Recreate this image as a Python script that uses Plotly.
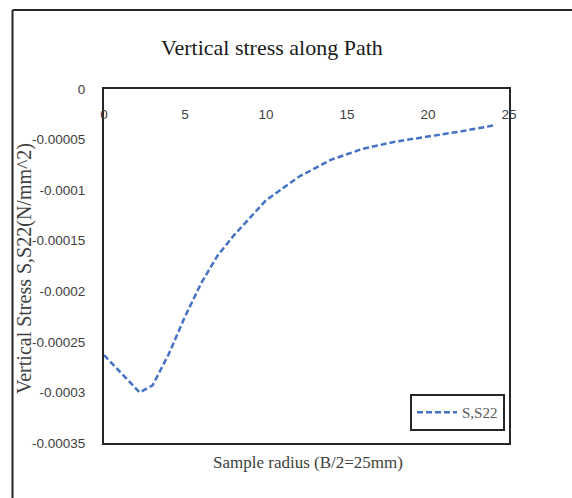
import plotly.graph_objects as go

# Path data: radial position (mm) and vertical stress S22 (N/mm^2)
radius_mm = [0, 1, 2.2, 3, 4, 5, 6, 7, 8, 10, 12, 14, 16, 18, 20, 22, 24.2]
s22 = [-0.000263, -0.000280, -0.000300, -0.000293, -0.000262, -0.000225,
       -0.000192, -0.000165, -0.000145, -0.000110, -0.000087, -0.000070,
       -0.000059, -0.000052, -0.000047, -0.000042, -0.0000356]

x_ticks = [0, 5, 10, 15, 20, 25]
y_ticks = [0, -0.00005, -0.0001, -0.00015, -0.0002, -0.00025, -0.0003, -0.00035]
y_tick_text = ["0", "-0.00005", "-0.0001", "-0.00015", "-0.0002", "-0.00025",
               "-0.0003", "-0.00035"]

W, H = 572, 498
L, R, T, B = 104, 63, 89, 55
pw, ph = W - L - R, H - T - B


def px(x):
    return (x - L) / pw


def py(y):
    return (H - B - y) / ph


fig = go.Figure()
fig.add_trace(go.Scatter(
    x=radius_mm, y=s22, mode="lines", name="S,S22",
    line=dict(color="#4472C4", width=2.5, dash="6px,3px"),
))

tick_font = dict(family="Liberation Sans", size=13.5, color="#404040")
fig.update_layout(
    width=W, height=H,
    margin=dict(l=L, r=R, t=T, b=B, pad=0),
    paper_bgcolor="white", plot_bgcolor="white",
    showlegend=True,
    legend=dict(
        x=px(505), y=py(431), xanchor="right", yanchor="bottom",
        bordercolor="#262626", borderwidth=2, bgcolor="white",
        font=dict(family="Liberation Serif", size=15, color="#595959"),
        itemwidth=40, tracegroupgap=0,
    ),
    xaxis=dict(
        range=[0, 25], side="top", tickvals=x_ticks,
        ticklabelposition="inside", ticklabeloverflow="allow",
        ticklabelstandoff=20, ticks="", showgrid=False, zeroline=False,
        showline=True, mirror=True, linecolor="#262626", linewidth=2,
        tickfont=tick_font,
    ),
    yaxis=dict(
        range=[-0.00035, 0], tickvals=y_ticks, ticktext=y_tick_text,
        ticks="", showgrid=False, zeroline=False, ticklabelstandoff=14,
        showline=True, mirror=True, linecolor="#262626", linewidth=2,
        tickfont=tick_font,
    ),
    annotations=[
        dict(text="Vertical stress along Path", xref="paper", yref="paper",
             x=px(271.5), y=py(47), xanchor="center", yanchor="middle",
             showarrow=False,
             font=dict(family="Liberation Serif", size=22, color="#1a1a1a")),
        dict(text="Vertical Stress S,S22(N/mm^2)", xref="paper", yref="paper",
             x=px(24), y=py(269), xanchor="center", yanchor="middle",
             textangle=-90, showarrow=False,
             font=dict(family="Liberation Serif", size=20, color="#404040")),
        dict(text="Sample radius (B/2=25mm)", xref="paper", yref="paper",
             x=px(308), y=py(462), xanchor="center", yanchor="middle",
             showarrow=False,
             font=dict(family="Liberation Serif", size=17, color="#404040")),
    ],
    shapes=[
        # outer chart frame (left and top edges)
        dict(type="line", xref="paper", yref="paper",
             x0=px(12.5), x1=px(12.5), y0=py(10), y1=py(510),
             line=dict(color="#262626", width=2)),
        dict(type="line", xref="paper", yref="paper",
             x0=px(12.5), x1=px(590), y0=py(10), y1=py(10),
             line=dict(color="#262626", width=2)),
    ],
)

fig.write_html("out.html")
